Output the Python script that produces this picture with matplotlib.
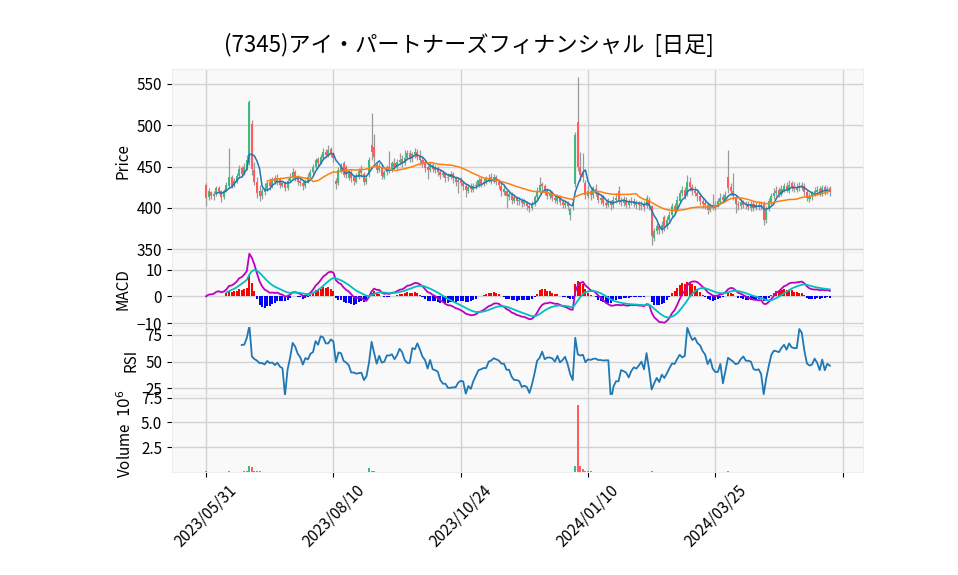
import numpy as np
import pandas as pd
import matplotlib
matplotlib.use('Agg')
from matplotlib import pyplot as plt

plt.rcParams['font.family'] = ['Noto Sans CJK JP', 'DejaVu Sans']

title = '(7345)アイ・パートナーズフィナンシャル  [日足]'
date_labels = ['2023/05/31', '2023/08/10', '2023/10/24', '2024/01/10', '2024/03/25', '']

opens = [
  428, 413, 419, 414, 417, 424, 420, 413, 421, 427,
  437, 427, 432, 439, 448, 442, 449, 455, 502, 446,
  432, 420, 414, 419, 423, 431, 427, 436, 431, 436,
  427, 431, 424, 433, 437, 443, 437, 433, 430, 426,
  432, 437, 443, 449, 459, 455, 461, 468, 464, 471,
  466, 433, 430, 445, 455, 450, 436, 443, 437, 432,
  438, 446, 441, 431, 440, 476, 474, 452, 446, 449,
  438, 443, 450, 446, 455, 450, 456, 459, 455, 461,
  466, 460, 465, 468, 462, 458, 456, 449, 446, 452,
  446, 448, 443, 440, 442, 436, 438, 441, 436, 431,
  434, 430, 427, 421, 426, 422, 426, 428, 435, 429,
  432, 434, 437, 432, 437, 432, 427, 419, 421, 413,
  416, 409, 412, 408, 409, 405, 407, 402, 400, 405,
  413, 420, 429, 426, 420, 414, 418, 412, 409, 413,
  407, 403, 406, 391, 406, 429, 504, 450, 443, 430,
  415, 421, 416, 423, 418, 410, 413, 406, 404, 408,
  404, 410, 420, 409, 406, 410, 404, 407, 409, 404,
  406, 402, 405, 402, 410, 402, 364, 372, 378, 373,
  389, 378, 386, 391, 402, 398, 409, 418, 422, 417,
  431, 425, 420, 418, 414, 409, 406, 404, 398, 403,
  400, 404, 407, 413, 409, 437, 425, 420, 413, 405,
  402, 407, 405, 404, 400, 405, 400, 404, 401, 406,
  385, 399, 407, 414, 418, 422, 417, 422, 427, 421,
  430, 426, 422, 424, 426, 427, 419, 411, 414, 418,
  419, 423, 418, 425, 420, 424]

highs = [
  430, 424, 421, 420, 427, 426, 422, 423, 431, 472,
  440, 436, 442, 452, 451, 455, 464, 531, 506, 456,
  437, 428, 424, 430, 433, 436, 438, 440, 441, 438,
  434, 433, 436, 442, 448, 446, 440, 437, 433, 435,
  442, 447, 453, 461, 462, 465, 472, 471, 476, 474,
  468, 436, 449, 455, 457, 452, 446, 446, 440, 442,
  448, 452, 444, 440, 462, 515, 490, 455, 454, 452,
  446, 452, 469, 457, 461, 459, 466, 464, 470, 470,
  470, 468, 473, 471, 470, 462, 458, 452, 456, 455,
  452, 451, 447, 446, 444, 442, 445, 443, 439, 438,
  437, 433, 430, 429, 430, 430, 433, 438, 437, 436,
  439, 441, 442, 441, 440, 435, 430, 426, 422, 420,
  419, 416, 415, 413, 412, 411, 409, 405, 409, 416,
  425, 437, 432, 429, 424, 422, 421, 416, 417, 416,
  411, 410, 409, 401, 409, 492, 559, 468, 466, 434,
  428, 425, 427, 429, 421, 417, 416, 410, 412, 410,
  414, 418, 426, 413, 414, 413, 411, 413, 412, 410,
  409, 408, 408, 416, 413, 404, 376, 382, 381, 384,
  392, 390, 396, 406, 406, 414, 422, 427, 425, 440,
  437, 429, 426, 421, 417, 412, 410, 407, 406, 417,
  409, 412, 418, 417, 420, 470, 430, 442, 416, 409,
  411, 410, 409, 408, 408, 408, 407, 408, 409, 408,
  402, 412, 418, 424, 426, 425, 428, 430, 431, 434,
  433, 432, 430, 431, 432, 430, 422, 418, 421, 425,
  426, 426, 428, 428, 427, 426]

lows = [
  402, 410, 411, 410, 414, 417, 407, 411, 419, 424,
  424, 425, 430, 436, 437, 440, 446, 452, 440, 428,
  412, 409, 411, 416, 420, 422, 424, 429, 428, 424,
  425, 420, 422, 431, 435, 433, 428, 427, 422, 424,
  430, 435, 441, 447, 451, 453, 459, 460, 462, 462,
  456, 423, 428, 442, 437, 436, 434, 432, 428, 430,
  435, 438, 428, 429, 438, 458, 455, 442, 443, 435,
  435, 440, 442, 444, 447, 447, 452, 450, 452, 458,
  456, 456, 461, 458, 452, 450, 444, 435, 443, 443,
  442, 439, 435, 437, 432, 433, 435, 430, 427, 418,
  426, 422, 413, 418, 419, 419, 423, 425, 425, 426,
  429, 431, 429, 430, 428, 423, 415, 416, 400, 410,
  405, 406, 403, 404, 401, 402, 397, 395, 397, 402,
  411, 418, 421, 416, 411, 411, 408, 406, 405, 403,
  400, 400, 397, 386, 398, 425, 445, 433, 432, 411,
  412, 410, 412, 414, 406, 405, 402, 400, 401, 398,
  400, 406, 405, 402, 402, 400, 400, 403, 401, 399,
  398, 398, 396, 400, 398, 355, 360, 369, 368, 370,
  372, 375, 383, 389, 394, 396, 406, 414, 411, 415,
  421, 416, 414, 409, 404, 400, 399, 393, 395, 397,
  397, 401, 405, 406, 407, 418, 416, 410, 394, 398,
  399, 400, 399, 397, 396, 396, 397, 398, 398, 380,
  382, 396, 404, 411, 415, 413, 414, 419, 419, 418,
  421, 419, 419, 421, 422, 415, 408, 407, 410, 414,
  416, 414, 415, 416, 417, 414]

closes = [
  412, 420, 415, 417, 424, 420, 413, 421, 428, 437,
  427, 433, 439, 447, 441, 450, 458, 528, 447, 432,
  418, 414, 421, 424, 430, 427, 435, 432, 436, 428,
  430, 424, 433, 438, 444, 436, 432, 430, 426, 432,
  438, 443, 450, 458, 455, 462, 468, 464, 470, 466,
  460, 429, 446, 450, 440, 441, 443, 436, 433, 438,
  445, 442, 432, 436, 458, 468, 462, 446, 451, 439,
  443, 449, 446, 454, 450, 456, 458, 455, 461, 466,
  460, 465, 468, 462, 458, 455, 448, 446, 452, 447,
  448, 443, 440, 442, 436, 438, 441, 436, 432, 434,
  430, 427, 422, 425, 423, 426, 428, 434, 429, 432,
  435, 436, 433, 437, 432, 428, 420, 423, 414, 417,
  410, 413, 408, 410, 406, 408, 402, 400, 405, 413,
  421, 428, 426, 420, 415, 418, 412, 410, 413, 407,
  404, 406, 402, 399, 402, 488, 449, 440, 437, 416,
  420, 416, 423, 418, 410, 412, 406, 404, 407, 404,
  410, 412, 409, 407, 410, 404, 407, 409, 405, 406,
  403, 404, 401, 412, 402, 366, 372, 378, 373, 380,
  377, 386, 392, 402, 398, 410, 418, 422, 415, 432,
  425, 420, 418, 414, 408, 405, 404, 398, 402, 400,
  404, 408, 412, 410, 416, 424, 420, 414, 405, 403,
  407, 404, 403, 401, 404, 400, 403, 402, 404, 386,
  398, 408, 414, 418, 421, 417, 423, 426, 422, 428,
  425, 423, 425, 427, 428, 419, 412, 414, 418, 420,
  422, 418, 424, 420, 423, 419]

# volume in thousands of shares
volumes_k = [
  60, 35, 28, 25, 40, 30, 32, 28, 45, 60,
  55, 40, 45, 50, 50, 60, 80, 600, 500, 90,
  70, 60, 45, 35, 40, 30, 38, 28, 35, 30,
  25, 33, 30, 36, 48, 32, 28, 25, 30, 27,
  35, 40, 45, 50, 42, 50, 55, 40, 50, 38,
  33, 45, 50, 40, 45, 32, 30, 34, 28, 30,
  38, 32, 35, 30, 380, 90, 60, 50, 45, 50,
  35, 38, 40, 36, 30, 34, 38, 30, 35, 42,
  36, 33, 40, 35, 30, 28, 34, 30, 27, 25,
  26, 30, 28, 24, 32, 25, 22, 27, 30, 26,
  25, 28, 33, 24, 22, 25, 23, 35, 27, 24,
  26, 25, 22, 28, 24, 27, 35, 30, 40, 26,
  32, 25, 28, 30, 24, 33, 30, 38, 35, 45,
  50, 55, 38, 30, 28, 25, 27, 24, 22, 26,
  28, 24, 30, 45, 35, 660, 6800, 580, 320, 150,
  90, 70, 55, 45, 40, 42, 38, 35, 30, 33,
  30, 28, 40, 32, 26, 30, 25, 27, 24, 22,
  25, 23, 26, 45, 40, 60, 55, 50, 45, 40,
  48, 45, 50, 55, 40, 52, 55, 48, 42, 50,
  50, 38, 33, 30, 35, 32, 28, 30, 26, 40,
  30, 32, 35, 28, 40, 60, 50, 45, 45, 32,
  28, 26, 25, 27, 24, 26, 23, 25, 24, 50,
  45, 45, 40, 38, 35, 32, 36, 40, 33, 45,
  35, 30, 32, 42, 38, 35, 40, 30, 28, 32,
  30, 28, 34, 29, 31, 27]

up_color = '#3dba7c'
down_color = '#ff5c5c'
face = '#f9f9f9'
grid_color = '#d2d2d2'


def style_axes(ax):
  ax.set_facecolor(face)
  ax.grid(True, color=grid_color, linewidth=1.0)
  ax.set_axisbelow(True)
  for s in ax.spines.values():
    s.set_color('#eeeeee')
  ax.set_xlim(-13.4, 258)
  ax.set_xticks(range(0, 251, 50))
  ax.tick_params(labelsize=11)


def main():
  n = len(closes)
  idx = np.arange(n)
  o = np.array(opens, float)
  h = np.array(highs, float)
  l = np.array(lows, float)
  c = np.array(closes, float)
  vol = np.array(volumes_k, float) / 1000.0
  up = c >= o
  colors = np.where(up, up_color, down_color)

  close = pd.Series(c)
  sma5 = close.rolling(5).mean()
  sma25 = close.rolling(25).mean()
  macd = close.ewm(span=12, adjust=False).mean() - close.ewm(span=26, adjust=False).mean()
  signal = macd.ewm(span=9, adjust=False, min_periods=9).mean()
  hist = macd - signal
  diff = close.diff()
  gain = diff.clip(lower=0).rolling(14).mean()
  loss = (-diff.clip(upper=0)).rolling(14).mean()
  rsi = 100 * gain / (gain + loss)

  fig = plt.figure(figsize=(9.58, 5.75), dpi=100)
  left, width = 0.1795, 0.7213
  ax1 = fig.add_axes([left, 0.5617, width, 0.3178])
  ax2 = fig.add_axes([left, 0.4336, width, 0.1281])
  ax3 = fig.add_axes([left, 0.3130, width, 0.1206])
  ax4 = fig.add_axes([left, 0.1790, width, 0.1340])

  # price
  style_axes(ax1)
  ax1.vlines(idx, l, h, color='#9a9a9a', linewidth=0.9, zorder=2)
  ax1.bar(idx, np.abs(c - o), bottom=np.minimum(o, c), width=0.8, color=colors, zorder=3)
  ax1.plot(idx, sma5, color='#1f77b4', linewidth=1.1, zorder=4)
  ax1.plot(idx, sma25, color='#ff7f0e', linewidth=1.1, zorder=4)
  ax1.set_ylim(346.7, 567.8)
  ax1.set_yticks([350, 400, 450, 500, 550])
  ax1.set_ylabel('Price', fontsize=11)
  ax1.tick_params(axis='x', length=0, labelbottom=False)

  # macd
  style_axes(ax2)
  hist_colors = np.where(hist > 0, 'red', 'blue')
  ax2.bar(idx, hist.fillna(0), width=0.8, color=hist_colors, zorder=2)
  ax2.plot(idx, macd, color='m', linewidth=1.3, zorder=3)
  ax2.plot(idx, signal, color='c', linewidth=1.3, zorder=3)
  ax2.set_ylim(-11.0, 16.6)
  ax2.set_yticks([-10, 0, 10])
  ax2.set_ylabel('MACD', fontsize=11)
  ax2.tick_params(axis='x', length=0, labelbottom=False)

  # rsi
  style_axes(ax3)
  ax3.plot(idx, rsi, color='#1f77b4', linewidth=1.3)
  ax3.set_ylim(18.7, 83.7)
  ax3.set_yticks([25, 50, 75])
  ax3.set_ylabel('RSI', fontsize=11)
  ax3.tick_params(axis='x', length=0, labelbottom=False)

  # volume
  style_axes(ax4)
  ax4.bar(idx, vol, width=0.8, color=colors, zorder=2)
  ax4.set_ylim(0, 7.77)
  ax4.set_yticks([2.5, 5.0, 7.5])
  ax4.set_yticklabels(['2.5', '5.0', '7.5'])
  ax4.set_ylabel('Volume  $10^{6}$', fontsize=11)
  ax4.set_xticklabels(date_labels, rotation=45, fontsize=11)

  fig.text(0.49, 0.922, title, ha='center', va='center', fontsize=16)
  fig.savefig('out.png', dpi=100)


main()
